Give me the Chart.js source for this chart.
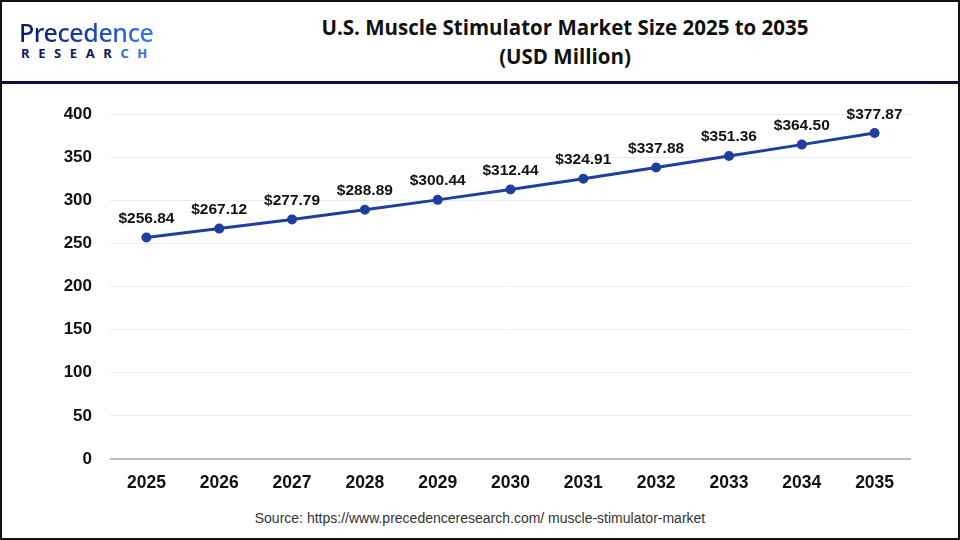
<!DOCTYPE html>
<html>
<head>
<meta charset="utf-8">
<script src="https://cdn.jsdelivr.net/npm/chart.js@4.4.1/dist/chart.umd.min.js"></script>
<style>
  html, body { margin: 0; padding: 0; background: #fff; }
  #frame {
    position: relative; width: 960px; height: 540px; box-sizing: border-box;
    border: 2px solid #111; overflow: hidden; background: #fff;
  }
  #header-line { position: absolute; left: 0; right: 0; top: 79px; height: 3px; background: #0d0f3a; }
  #logo { position: absolute; left: 17px; top: 16px; font-family: "Noto Sans", sans-serif; }
  #logo .top {
    font-size: 25px; line-height: 28px; font-weight: 500; letter-spacing: -0.4px;
    background: linear-gradient(90deg, #0f1763 0%, #1b3aa8 45%, #3b7ff0 100%);
    -webkit-background-clip: text; background-clip: text; color: transparent;
  }
  #logo .bottom {
    font-size: 13px; line-height: 14px; font-weight: 700; letter-spacing: 8.6px; color: #111a5e; padding-left: 2px;
  }
  #logo .bottom span { color: #2f6fe0; }
  #title {
    position: absolute; left: 170px; right: 0; top: 11px; text-align: center;
    font-family: "Open Sans", sans-serif; font-weight: 700; font-size: 20.5px; line-height: 29px; color: #111;
  }
  #source {
    position: absolute; left: 0; right: 0; top: 508px; text-align: center;
    font-family: "Liberation Sans", Arial, sans-serif; font-size: 14px; color: #333;
  }
  #wrap { position: absolute; left: -2px; top: 82px; width: 960px; height: 420px; }
</style>
</head>
<body>
<div id="frame">
  <div id="logo">
    <div class="top">Precedence</div>
    <div class="bottom">RESEAR<span>CH</span></div>
  </div>
  <div id="title">U.S. Muscle Stimulator Market Size 2025 to 2035<br>(USD Million)</div>
  <div id="header-line"></div>
  <div id="wrap"><canvas id="chart"></canvas></div>
  <div id="source">Source: https://www.precedenceresearch.com/ muscle-stimulator-market</div>
</div>
<script>
const years = ['2025', '2026', '2027', '2028', '2029', '2030', '2031', '2032', '2033', '2034', '2035'];
const marketSize = [256.84, 267.12, 277.79, 288.89, 300.44, 312.44, 324.91, 337.88, 351.36, 364.50, 377.87];
const yTicks = [0, 50, 100, 150, 200, 250, 300, 350, 400];

const lineColor = '#1f3f9f';

// draws the "$xxx.xx" labels above each point
const valueLabels = {
    id: 'valueLabels',
    afterDatasetsDraw(chart) {
        const ctx = chart.ctx;
        const meta = chart.getDatasetMeta(0);
        ctx.save();
        ctx.font = 'bold 15.5px "Liberation Sans", Arial, sans-serif';
        ctx.fillStyle = '#111';
        ctx.textAlign = 'center';
        ctx.textBaseline = 'bottom';
        meta.data.forEach((pt, i) => {
            ctx.fillText('$' + marketSize[i].toFixed(2), pt.x, pt.y - 11);
        });
        ctx.restore();
    }
};

const ctx = document.getElementById('chart').getContext('2d');
new Chart(ctx, {
    type: 'line',
    data: {
        labels: years,
        datasets: [{
            data: marketSize,
            borderColor: lineColor,
            backgroundColor: lineColor,
            borderWidth: 3,
            pointRadius: 3.5,
            pointHoverRadius: 3.5,
            tension: 0
        }]
    },
    options: {
        responsive: true,
        maintainAspectRatio: false,
        animation: false,
        layout: { padding: { top: 30, right: 49, left: 0, bottom: 0 } },
        plugins: {
            legend: { display: false },
            tooltip: { enabled: false }
        },
        scales: {
            x: {
                offset: true,
                grid: { display: false, drawTicks: false },
                border: { display: false },
                ticks: {
                    color: '#111',
                    padding: 14,
                    font: { family: '"Liberation Sans", Arial, sans-serif', size: 17.5, weight: 'bold' }
                },
                afterFit(scale) { scale.height = 45; }
            },
            y: {
                min: 0,
                max: 400,
                afterBuildTicks(scale) { scale.ticks = yTicks.map(v => ({ value: v })); },
                grid: {
                    drawTicks: false,
                    color: ctx => ctx.tick && ctx.tick.value === 0 ? '#bdbdbd' : '#ececec',
                    lineWidth: ctx => ctx.tick && ctx.tick.value === 0 ? 2 : 1
                },
                border: { display: false },
                ticks: {
                    color: '#111',
                    padding: 18,
                    font: { family: '"Liberation Sans", Arial, sans-serif', size: 17, weight: 'bold' }
                },
                afterFit(scale) { scale.width = 110; }
            }
        }
    },
    plugins: [valueLabels]
});
</script>
</body>
</html>
